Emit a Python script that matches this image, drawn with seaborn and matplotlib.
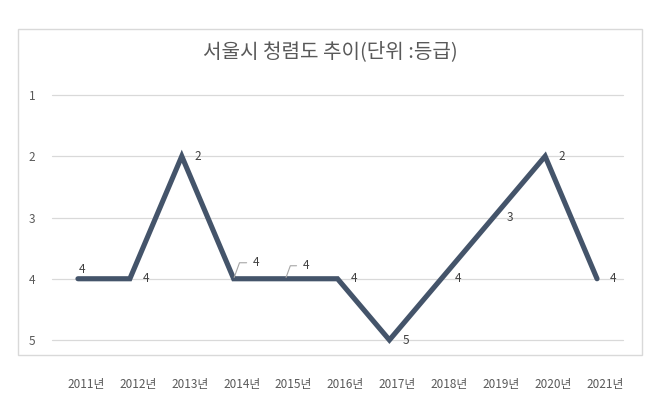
import pandas as pd
import seaborn as sns
import matplotlib.pyplot as plt
import matplotlib.transforms as mtransforms
from matplotlib.patches import Rectangle

# =========================
# Data
# =========================
years = ["2011년", "2012년", "2013년", "2014년", "2015년", "2016년",
         "2017년", "2018년", "2019년", "2020년", "2021년"]
grades = [4, 4, 2, 4, 4, 4, 5, 4, 3, 2, 4]
title = "서울시 청렴도 추이(단위 :등급)"

df = pd.DataFrame({"pos": range(len(years)), "year": years, "grade": grades})

# =========================
# Style
# =========================
sns.set_theme(style="white")
plt.rcParams['font.family'] = ['Noto Sans CJK KR', 'DejaVu Sans']

line_color = "#44546A"
text_color = "#595959"
grid_color = "#D9D9D9"

fig = plt.figure(figsize=(6.71, 4.19), dpi=100)
ax = fig.add_axes([52 / 671, 79 / 419, 571 / 671, 245 / 419])

# chart border
fig.patches.append(Rectangle((18 / 671, 64 / 419), 624 / 671, 326 / 419,
                             transform=fig.transFigure, fill=False,
                             edgecolor=grid_color, linewidth=1))

sns.lineplot(data=df, x="pos", y="grade", ax=ax, color=line_color,
             linewidth=3.7, solid_capstyle="round", solid_joinstyle="miter")
for ln in ax.get_lines():
    ln.set_clip_on(False)
    ln.set_zorder(3)

ax.set_xlim(-0.5, len(years) - 0.5)
ax.set_ylim(5, 1)
ax.set_yticks([1, 2, 3, 4, 5])
ax.set_xticks(df["pos"])
ax.set_xticklabels(years)
ax.set_xlabel("")
ax.set_ylabel("")
for s in ax.spines.values():
    s.set_visible(False)
ax.grid(axis="y", color=grid_color, linewidth=0.9)
ax.grid(axis="x", visible=False)
for gl in ax.get_ygridlines():
    gl.set_clip_on(False)
ax.tick_params(axis="x", length=0, pad=27, labelsize=8.5, labelcolor=text_color)
ax.tick_params(axis="y", length=0, pad=12, labelsize=8.5, labelcolor=text_color)

shift = mtransforms.ScaledTranslation(8 / 100, 0, fig.dpi_scale_trans)
for lab in ax.get_xticklabels():
    lab.set_transform(lab.get_transform() + shift)

# =========================
# Data labels
# =========================
label_offsets = {0: (4, 9), 3: (19, 16), 4: (17, 13)}
leaders = {3, 4}
for i, g in enumerate(grades):
    dx, dy = label_offsets.get(i, (13, 0))
    if i in leaders:
        ax.annotate(str(g), xy=(i, g), xytext=(dx, dy), textcoords="offset pixels",
                    ha="left", va="center", fontsize=8.5, color="#404040",
                    arrowprops=dict(arrowstyle="-", color="#A6A6A6", lw=0.8,
                                    shrinkA=2, shrinkB=1,
                                    connectionstyle="angle,angleA=0,angleB=70,rad=0"))
    else:
        ax.annotate(str(g), xy=(i, g), xytext=(dx, dy), textcoords="offset pixels",
                    ha="center" if i == 0 else "left", va="center",
                    fontsize=8.5, color="#404040")

fig.text(330 / 671, 1 - 52 / 419, title, ha="center", va="center",
         fontsize=14.5, color=text_color)

plt.savefig("out.png", dpi=100)
